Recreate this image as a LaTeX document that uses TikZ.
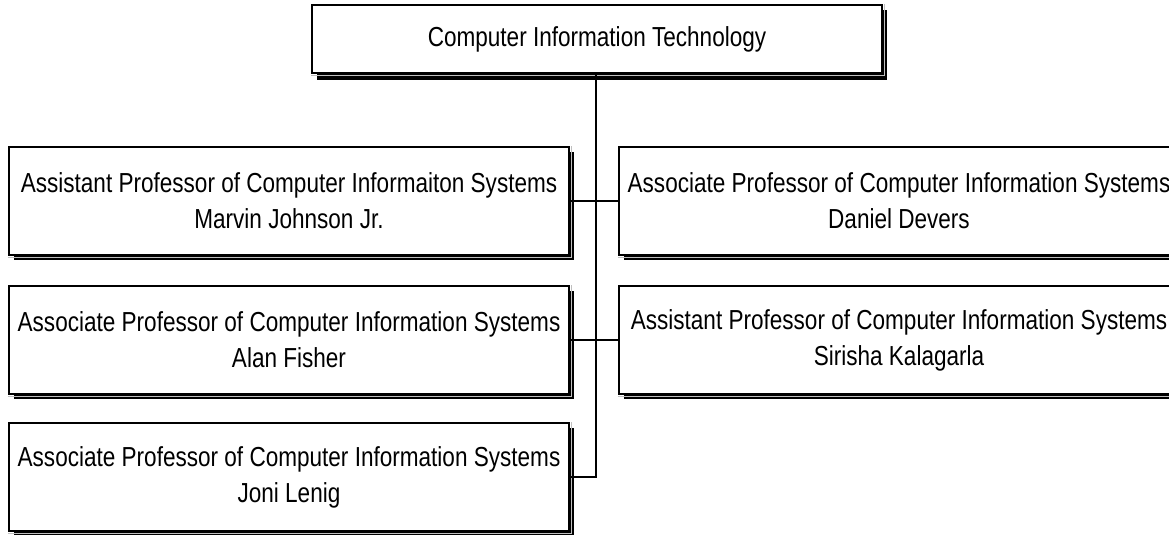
\documentclass[tikz,border=0pt]{standalone}
\usepackage{fontspec}
\setmainfont[FakeStretch=0.82]{Liberation Sans}
\usetikzlibrary{calc}
\begin{document}
\begin{tikzpicture}[x=1bp,y=1bp,
  orgbox/.style={draw=black, fill=white, line width=1.5bp, inner sep=0pt,
    align=center, font=\fontsize{27.5bp}{36bp}\selectfont},
  wide/.style={minimum width=560bp, minimum height=108bp},
  gapline/.style={draw=white!75!black, line width=1bp},
  conn/.style={draw=black, line width=1.4bp}]
\useasboundingbox (0,0) rectangle (1169,535);
\clip (0,0) rectangle (1169,535);
% shadows
\fill[black] (317,455) rectangle (887,525);
\fill[black] (14,275) rectangle (574,383);
\fill[black] (624,275) rectangle (1184,383);
\fill[black] (14,136) rectangle (574,244);
\fill[black] (624,136) rectangle (1184,244);
\fill[black] (14,-1) rectangle (574,107);
% nodes
\node[orgbox, minimum width=570bp, minimum height=68bp] (top) at (597,496) {Computer Information Technology};
\node[orgbox, wide] (l1) at (289,334) {Assistant Professor of Computer Informaiton Systems\\Marvin Johnson Jr.};
\node[orgbox, wide] (r1) at (899,334) {Associate Professor of Computer Information Systems\\Daniel Devers};
\node[orgbox, wide] (l2) at (289,195) {Associate Professor of Computer Information Systems\\Alan Fisher};
\node[orgbox, wide] (r2) at (899,195) {Assistant Professor of Computer Information Systems\\Sirisha Kalagarla};
\node[orgbox, wide] (l3) at (289,58) {Associate Professor of Computer Information Systems\\Joni Lenig};
% thin light gap between outline and shadow
\foreach \n in {top,l1,r1,l2,r2,l3}{
  \draw[gapline] ($(\n.south west)+(0,-1.3)$) -- ($(\n.south east)+(1.3,-1.3)$) -- ($(\n.north east)+(1.3,0)$);
}
% connectors
\coordinate (j3) at (596,58);
\coordinate (t0) at (596,462);
\draw[conn] (t0) -- (j3) -- (l3.east);
\draw[conn] (l1.east) -- (r1.west);
\draw[conn] (l2.east) -- (r2.west);
\end{tikzpicture}
\end{document}
